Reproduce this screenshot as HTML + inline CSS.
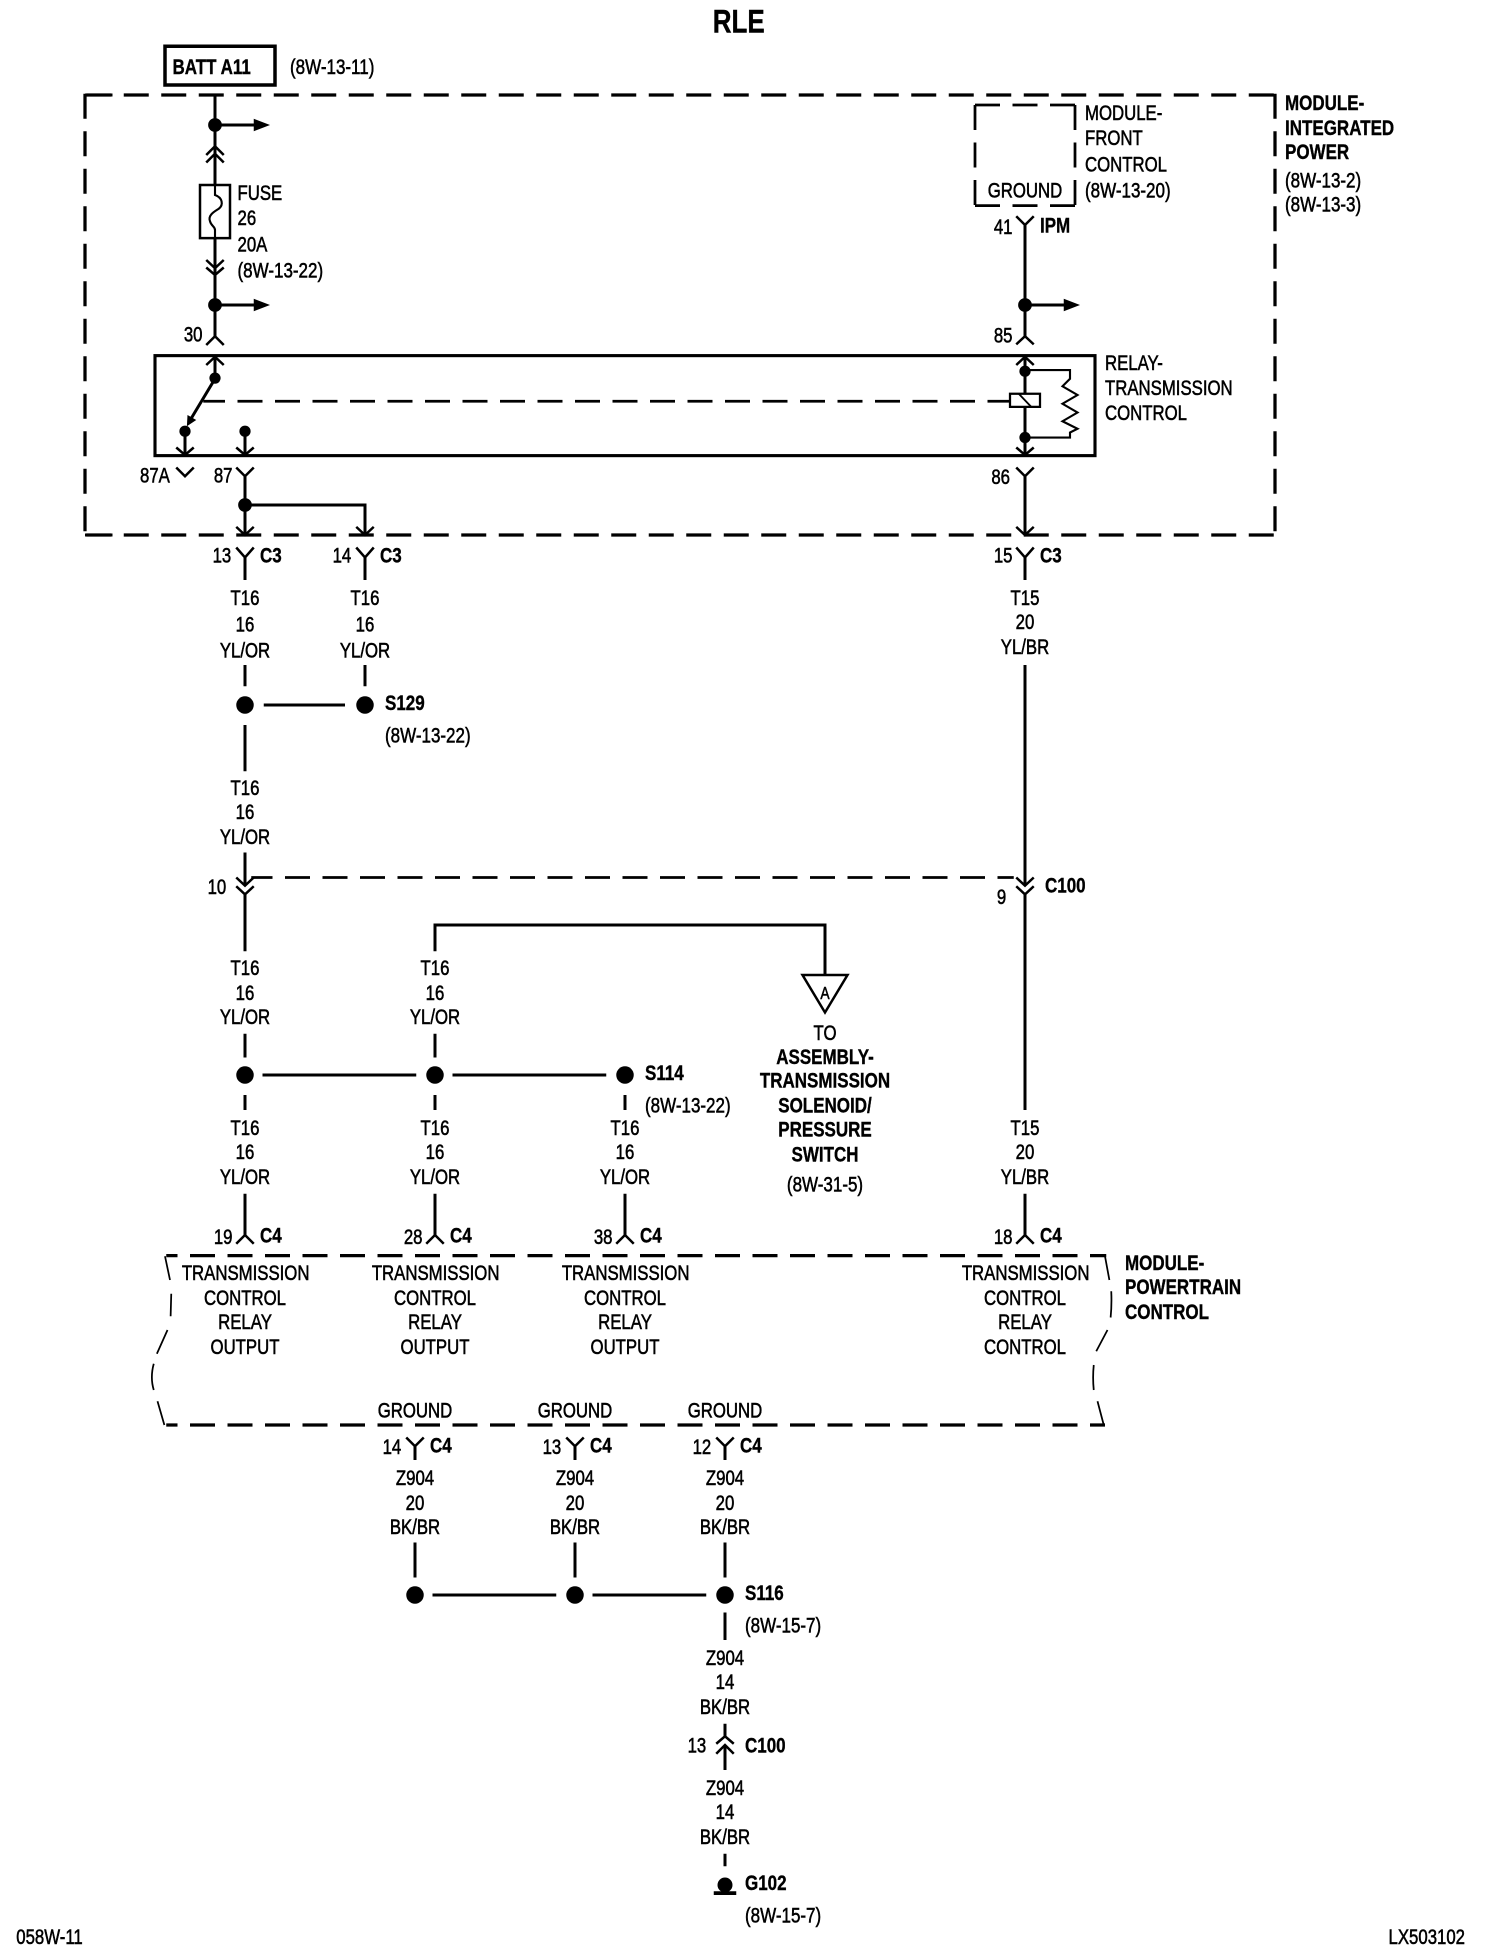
<!DOCTYPE html>
<html><head><meta charset="utf-8"><title>RLE</title>
<style>
html,body{margin:0;padding:0;background:#fff;width:1504px;height:1960px;overflow:hidden}
svg{display:block}
text{font-family:"Liberation Sans",sans-serif;font-size:17px;fill:#000;stroke:#000;stroke-width:.45}
.m{text-anchor:middle}.e{text-anchor:end}.b{font-weight:bold;stroke-width:.3}
.w{fill:none;stroke:#000;stroke-width:2.4}
.c{fill:none;stroke:#000;stroke-width:2}
.t{fill:none;stroke:#000;stroke-width:1.4}
.d{fill:none;stroke:#000;stroke-width:2.6;stroke-dasharray:20 10}
</style></head><body>
<svg xmlns="http://www.w3.org/2000/svg" width="1504" height="1960" viewBox="0 0 1203.2 1568">
<rect width="1203.2" height="1568" fill="#fff"/>

<!-- frames -->
<rect x="132" y="37" width="88" height="31" class="w" style="stroke-width:2.8"/>
<path class="d" d="M69 76H1020M69 428H1020M68 75V428M1020 75V428"/>
<path class="w" d="M68 76H90M68 428H90" />
<rect x="124" y="284.500" width="752" height="80" class="w" style="stroke-width:2.500"/>
<path class="d" style="stroke-width:2.200" d="M780 84H860M780 164.500H860M780 84V164.500M860 84V164.500"/>
<path class="d" stroke-dashoffset="11" d="M133 1004.500H885M133 1140H884"/>
<path class="t" d="M132 1005L136 1024M137 1035L136.500 1053M134 1064L125.500 1083M123 1091Q120 1102 123 1112M126 1121L131.500 1140"/>
<path class="t" d="M884 1005L887.500 1024M889 1033Q889.500 1044 888.500 1054M886 1064L877 1081M875 1092Q874 1102 875 1112M878 1121L883 1140"/>

<!-- left feed -->
<path class="w" d="M172 76V148M172 190V270M172 100H204M172 244H204"/>
<circle cx="172" cy="100" r="5.500"/><circle cx="172" cy="244" r="5.500"/>
<path d="M203 95L216 100L203 105ZM203 239L216 244L203 249Z"/>
<path class="c" d="M165 124L172 117L179 124M165 130L172 123L179 130M165 214L172 220L179 214M165 208L172 214.500L179 208M165 276L172 269L179 276"/>
<rect x="160" y="148" width="24" height="42.500" class="c"/>
<path class="t" style="stroke-width:1.700" d="M172 148V156C178 158 179 164 175 167C172 169 166 172 168 177C169 181 172 181 172 184V190"/>

<!-- relay internals -->
<path class="c" d="M165 292L172 285.500L179 292M141 358L148 364L155 358M189 358L196 364L203 358M813 292L820 285.500L827 292M813 358L820 364L827 358"/>
<path class="w" d="M172 286V303M172 303L151 338M148 345V363M196 345V363M820 286V363"/>
<path d="M149.500 341L150 332L157 336Z"/>
<circle cx="172" cy="302.500" r="4.500"/><circle cx="148" cy="345" r="4.500"/><circle cx="196" cy="345" r="4.500"/><circle cx="820" cy="297" r="4.500"/><circle cx="820" cy="350" r="4.500"/>
<path class="d" style="stroke-width:2.200;stroke-dashoffset:2.600" d="M162.600 321H808"/>
<rect x="808" y="315" width="24" height="10.500" fill="#fff" stroke="#000" stroke-width="1.800"/>
<path class="t" style="stroke-width:1.500" d="M815 315L825 325.500"/>
<path class="t" style="stroke-width:1.700" d="M820 296H856V303L850 309L862 316L850 323L862 330L850 337L862 343L856 346V350H820"/>

<!-- right feed -->
<path class="w" d="M820 180V269M820 244H852"/>
<circle cx="820" cy="244" r="5.500"/>
<path d="M851 239L864 244L851 249Z"/>
<path class="c" d="M813 173L820 180L827 173M813 275.500L820 269L827 275.500"/>

<!-- relay outputs -->
<path class="c" d="M141 374L148 381L155 374M189 374L196 381L203 374M813 374L820 381L827 374"/>
<path class="w" d="M196 381V428M196 404H292V428M820 381V428"/>
<circle cx="196" cy="404" r="5.500"/>
<path class="c" d="M189 421.500L196 428L203 421.500M285 421.500L292 428L299 421.500M813 421.500L820 428L827 421.500"/>

<!-- C3 -->
<path class="c" d="M189 438L196 446L203 438M285 438L292 446L299 438M813 438L820 446L827 438"/>
<path class="w" d="M196 446V464M292 446V464M820 446V464"/>

<!-- S129 -->
<path class="w" d="M196 532V549M292 532V549M196 580V617M211 564H276"/>
<circle cx="196" cy="564" r="7"/><circle cx="292" cy="564" r="7"/>

<!-- C100 upper -->
<path class="w" d="M196 682V708M196 715V761M820 532V708M820 715V888"/>
<path class="c" d="M189 702L196 708.500L203 702M189 709L196 715.500L203 709M813 702L820 708.500L827 702M813 709L820 715.500L827 709"/>
<path class="d" style="stroke-width:2.200;stroke-dashoffset:3" d="M201 702H811"/>

<!-- branch to A -->
<path class="w" d="M348 761V740H660V780"/>
<path class="c" d="M642 780H678L660 810Z"/>

<!-- S114 row -->
<path class="w" d="M196 827V846M348 827V846M210 860H333M362 860H485M196 876V888M348 876V888M500 876V888M196 955V988M348 955V988M500 955V988M820 955V988"/>
<circle cx="196" cy="860" r="7"/><circle cx="348" cy="860" r="7"/><circle cx="500" cy="860" r="7"/>
<path class="c" d="M189 995L196 988L203 995M341 995L348 988L355 995M493 995L500 988L507 995M813 995L820 988L827 995"/>

<!-- grounds -->
<path class="c" d="M325 1150L332 1157L339 1150M453 1150L460 1157L467 1150M573 1150L580 1157L587 1150"/>
<path class="w" d="M332 1157V1168M460 1157V1168M580 1157V1168M332 1234V1262M460 1234V1262M580 1234V1262M346 1276H445M474 1276H565M580 1290V1312M580 1379V1389M580 1396V1416M580 1483V1493"/>
<circle cx="332" cy="1276" r="7"/><circle cx="460" cy="1276" r="7"/><circle cx="580" cy="1276" r="7"/>
<path class="c" d="M573 1395L580 1389L587 1395M573 1403L580 1396L587 1403"/>
<circle cx="580" cy="1508" r="6"/><rect x="571" y="1513" width="18" height="3"/>

<!-- text -->
<text class="m b" style="font-size:26px" transform="matrix(.8 0 0 1 591 26)">RLE</text>
<text class="b" transform="matrix(.8 0 0 1 138 59)">BATT A11</text>
<text transform="matrix(.8 0 0 1 232 59)">(8W-13-11)</text>
<text transform="matrix(.79 0 0 1 190 160)">FUSE</text>
<text transform="matrix(.79 0 0 1 190 180)">26</text>
<text transform="matrix(.79 0 0 1 190 201)">20A</text>
<text transform="matrix(.8 0 0 1 190 222)">(8W-13-22)</text>
<text transform="matrix(.79 0 0 1 868 96)">MODULE-</text>
<text transform="matrix(.79 0 0 1 868 116)">FRONT</text>
<text transform="matrix(.79 0 0 1 868 137)">CONTROL</text>
<text transform="matrix(.8 0 0 1 868 158)">(8W-13-20)</text>
<text class="m" transform="matrix(.79 0 0 1 820 158)">GROUND</text>
<text class="b" transform="matrix(.8 0 0 1 1028 88)">MODULE-</text>
<text class="b" transform="matrix(.8 0 0 1 1028 108)">INTEGRATED</text>
<text class="b" transform="matrix(.8 0 0 1 1028 127)">POWER</text>
<text transform="matrix(.8 0 0 1 1028 150)">(8W-13-2)</text>
<text transform="matrix(.8 0 0 1 1028 169)">(8W-13-3)</text>
<text class="e" transform="matrix(.79 0 0 1 810 187)">41</text>
<text class="b" transform="matrix(.8 0 0 1 832 186)">IPM</text>
<text class="e" transform="matrix(.79 0 0 1 162 273)">30</text>
<text class="e" transform="matrix(.79 0 0 1 810 274)">85</text>
<text transform="matrix(.79 0 0 1 884 296)">RELAY-</text>
<text transform="matrix(.79 0 0 1 884 316)">TRANSMISSION</text>
<text transform="matrix(.79 0 0 1 884 336)">CONTROL</text>
<text transform="matrix(.79 0 0 1 112 386)">87A</text>
<text class="e" transform="matrix(.79 0 0 1 186 386)">87</text>
<text class="e" transform="matrix(.79 0 0 1 808 387)">86</text>

<text class="e" transform="matrix(.79 0 0 1 185 450)">13</text>
<text class="b" transform="matrix(.8 0 0 1 208 450)">C3</text>
<text class="e" transform="matrix(.79 0 0 1 281 450)">14</text>
<text class="b" transform="matrix(.8 0 0 1 304 450)">C3</text>
<text class="e" transform="matrix(.79 0 0 1 810 450)">15</text>
<text class="b" transform="matrix(.8 0 0 1 832 450)">C3</text>

<text class="m" transform="matrix(.79 0 0 1 196 484)">T16</text>
<text class="m" transform="matrix(.79 0 0 1 196 505)">16</text>
<text class="m" transform="matrix(.79 0 0 1 196 526)">YL/OR</text>
<text class="m" transform="matrix(.79 0 0 1 292 484)">T16</text>
<text class="m" transform="matrix(.79 0 0 1 292 505)">16</text>
<text class="m" transform="matrix(.79 0 0 1 292 526)">YL/OR</text>
<text class="m" transform="matrix(.79 0 0 1 820 484)">T15</text>
<text class="m" transform="matrix(.79 0 0 1 820 503)">20</text>
<text class="m" transform="matrix(.79 0 0 1 820 523)">YL/BR</text>
<text class="b" transform="matrix(.8 0 0 1 308 568)">S129</text>
<text transform="matrix(.8 0 0 1 308 594)">(8W-13-22)</text>
<text class="m" transform="matrix(.79 0 0 1 196 636)">T16</text>
<text class="m" transform="matrix(.79 0 0 1 196 655)">16</text>
<text class="m" transform="matrix(.79 0 0 1 196 675)">YL/OR</text>
<text class="e" transform="matrix(.79 0 0 1 181 715)">10</text>
<text class="e" transform="matrix(.79 0 0 1 805 723)">9</text>
<text class="b" transform="matrix(.8 0 0 1 836 714)">C100</text>

<text class="m" transform="matrix(.79 0 0 1 196 780)">T16</text>
<text class="m" transform="matrix(.79 0 0 1 196 800)">16</text>
<text class="m" transform="matrix(.79 0 0 1 196 819)">YL/OR</text>
<text class="m" transform="matrix(.79 0 0 1 348 780)">T16</text>
<text class="m" transform="matrix(.79 0 0 1 348 800)">16</text>
<text class="m" transform="matrix(.79 0 0 1 348 819)">YL/OR</text>
<text class="m" style="font-size:14px" transform="matrix(.79 0 0 1 660 799)">A</text>
<text class="m" transform="matrix(.79 0 0 1 660 832)">TO</text>
<text class="m b" transform="matrix(.8 0 0 1 660 851)">ASSEMBLY-</text>
<text class="m b" transform="matrix(.8 0 0 1 660 870)">TRANSMISSION</text>
<text class="m b" transform="matrix(.8 0 0 1 660 890)">SOLENOID/</text>
<text class="m b" transform="matrix(.8 0 0 1 660 909)">PRESSURE</text>
<text class="m b" transform="matrix(.8 0 0 1 660 929)">SWITCH</text>
<text class="m" transform="matrix(.8 0 0 1 660 953)">(8W-31-5)</text>
<text class="b" transform="matrix(.8 0 0 1 516 864)">S114</text>
<text transform="matrix(.8 0 0 1 516 890)">(8W-13-22)</text>

<text class="m" transform="matrix(.79 0 0 1 196 908)">T16</text>
<text class="m" transform="matrix(.79 0 0 1 196 927)">16</text>
<text class="m" transform="matrix(.79 0 0 1 196 947)">YL/OR</text>
<text class="m" transform="matrix(.79 0 0 1 348 908)">T16</text>
<text class="m" transform="matrix(.79 0 0 1 348 927)">16</text>
<text class="m" transform="matrix(.79 0 0 1 348 947)">YL/OR</text>
<text class="m" transform="matrix(.79 0 0 1 500 908)">T16</text>
<text class="m" transform="matrix(.79 0 0 1 500 927)">16</text>
<text class="m" transform="matrix(.79 0 0 1 500 947)">YL/OR</text>
<text class="m" transform="matrix(.79 0 0 1 820 908)">T15</text>
<text class="m" transform="matrix(.79 0 0 1 820 927)">20</text>
<text class="m" transform="matrix(.79 0 0 1 820 947)">YL/BR</text>

<text class="e" transform="matrix(.79 0 0 1 186 995)">19</text>
<text class="b" transform="matrix(.8 0 0 1 208 994)">C4</text>
<text class="e" transform="matrix(.79 0 0 1 338 995)">28</text>
<text class="b" transform="matrix(.8 0 0 1 360 994)">C4</text>
<text class="e" transform="matrix(.79 0 0 1 490 995)">38</text>
<text class="b" transform="matrix(.8 0 0 1 512 994)">C4</text>
<text class="e" transform="matrix(.79 0 0 1 810 995)">18</text>
<text class="b" transform="matrix(.8 0 0 1 832 994)">C4</text>

<text class="m" transform="matrix(.79 0 0 1 196.500 1024)">TRANSMISSION</text>
<text class="m" transform="matrix(.79 0 0 1 196 1044)">CONTROL</text>
<text class="m" transform="matrix(.79 0 0 1 196 1063)">RELAY</text>
<text class="m" transform="matrix(.79 0 0 1 196 1083)">OUTPUT</text>
<text class="m" transform="matrix(.79 0 0 1 348.500 1024)">TRANSMISSION</text>
<text class="m" transform="matrix(.79 0 0 1 348 1044)">CONTROL</text>
<text class="m" transform="matrix(.79 0 0 1 348 1063)">RELAY</text>
<text class="m" transform="matrix(.79 0 0 1 348 1083)">OUTPUT</text>
<text class="m" transform="matrix(.79 0 0 1 500.500 1024)">TRANSMISSION</text>
<text class="m" transform="matrix(.79 0 0 1 500 1044)">CONTROL</text>
<text class="m" transform="matrix(.79 0 0 1 500 1063)">RELAY</text>
<text class="m" transform="matrix(.79 0 0 1 500 1083)">OUTPUT</text>
<text class="m" transform="matrix(.79 0 0 1 820.500 1024)">TRANSMISSION</text>
<text class="m" transform="matrix(.79 0 0 1 820 1044)">CONTROL</text>
<text class="m" transform="matrix(.79 0 0 1 820 1063)">RELAY</text>
<text class="m" transform="matrix(.79 0 0 1 820 1083)">CONTROL</text>
<text class="b" transform="matrix(.8 0 0 1 900 1016)">MODULE-</text>
<text class="b" transform="matrix(.8 0 0 1 900 1035)">POWERTRAIN</text>
<text class="b" transform="matrix(.8 0 0 1 900 1055)">CONTROL</text>

<text class="m" transform="matrix(.79 0 0 1 332 1134)">GROUND</text>
<text class="m" transform="matrix(.79 0 0 1 460 1134)">GROUND</text>
<text class="m" transform="matrix(.79 0 0 1 580 1134)">GROUND</text>
<text class="e" transform="matrix(.79 0 0 1 321 1163)">14</text>
<text class="b" transform="matrix(.8 0 0 1 344 1162)">C4</text>
<text class="e" transform="matrix(.79 0 0 1 449 1163)">13</text>
<text class="b" transform="matrix(.8 0 0 1 472 1162)">C4</text>
<text class="e" transform="matrix(.79 0 0 1 569 1163)">12</text>
<text class="b" transform="matrix(.8 0 0 1 592 1162)">C4</text>

<text class="m" transform="matrix(.79 0 0 1 332 1188)">Z904</text>
<text class="m" transform="matrix(.79 0 0 1 332 1208)">20</text>
<text class="m" transform="matrix(.79 0 0 1 332 1227)">BK/BR</text>
<text class="m" transform="matrix(.79 0 0 1 460 1188)">Z904</text>
<text class="m" transform="matrix(.79 0 0 1 460 1208)">20</text>
<text class="m" transform="matrix(.79 0 0 1 460 1227)">BK/BR</text>
<text class="m" transform="matrix(.79 0 0 1 580 1188)">Z904</text>
<text class="m" transform="matrix(.79 0 0 1 580 1208)">20</text>
<text class="m" transform="matrix(.79 0 0 1 580 1227)">BK/BR</text>
<text class="b" transform="matrix(.8 0 0 1 596 1280)">S116</text>
<text transform="matrix(.8 0 0 1 596 1306)">(8W-15-7)</text>
<text class="m" transform="matrix(.79 0 0 1 580 1332)">Z904</text>
<text class="m" transform="matrix(.79 0 0 1 580 1351)">14</text>
<text class="m" transform="matrix(.79 0 0 1 580 1371)">BK/BR</text>
<text class="e" transform="matrix(.79 0 0 1 565 1402)">13</text>
<text class="b" transform="matrix(.8 0 0 1 596 1402)">C100</text>
<text class="m" transform="matrix(.79 0 0 1 580 1436)">Z904</text>
<text class="m" transform="matrix(.79 0 0 1 580 1455)">14</text>
<text class="m" transform="matrix(.79 0 0 1 580 1475)">BK/BR</text>
<text class="b" transform="matrix(.8 0 0 1 596 1512)">G102</text>
<text transform="matrix(.8 0 0 1 596 1538)">(8W-15-7)</text>
<text transform="matrix(.79 0 0 1 13 1555)">058W-11</text>
<text class="e" transform="matrix(.79 0 0 1 1172 1555)">LX503102</text>
</svg>
</body></html>
